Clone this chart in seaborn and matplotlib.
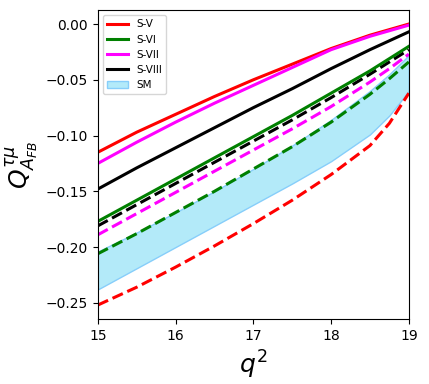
import numpy as np
import pandas as pd
import matplotlib
matplotlib.use("Agg")
import matplotlib.pyplot as plt
import seaborn as sns

# q^2 grid the values were read at
q2 = [15.0, 15.5, 16.0, 16.5, 17.0, 17.5, 18.0, 18.5, 18.75, 19.0]

# solid curves
s5_solid = [-0.115, -0.097, -0.081, -0.065, -0.050, -0.036, -0.022, -0.010, -0.005, 0.000]
s6_solid = [-0.177, -0.158, -0.139, -0.120, -0.101, -0.082, -0.062, -0.042, -0.031, -0.020]
s7_solid = [-0.125, -0.106, -0.088, -0.071, -0.055, -0.039, -0.023, -0.011, -0.006, -0.001]
s8_solid = [-0.148, -0.129, -0.111, -0.093, -0.075, -0.058, -0.040, -0.023, -0.015, -0.007]

# dashed curves
s5_dash = [-0.252, -0.236, -0.218, -0.199, -0.179, -0.158, -0.135, -0.109, -0.089, -0.062]
s6_dash = [-0.206, -0.188, -0.169, -0.150, -0.130, -0.110, -0.088, -0.063, -0.049, -0.034]
s7_dash = [-0.189, -0.170, -0.151, -0.132, -0.113, -0.094, -0.074, -0.052, -0.040, -0.027]
s8_dash = [-0.181, -0.162, -0.143, -0.124, -0.105, -0.086, -0.066, -0.045, -0.034, -0.023]

# SM band
sm_low = [-0.238, -0.219, -0.200, -0.181, -0.162, -0.143, -0.123, -0.099, -0.082, -0.060]
sm_high = [-0.204, -0.187, -0.169, -0.150, -0.130, -0.109, -0.086, -0.060, -0.045, -0.028]

labels = ["S-V", "S-VI", "S-VII", "S-VIII"]
colors = ["red", "green", "magenta", "black"]

fig = plt.figure(figsize=(4.29, 3.84), dpi=100)
ax = fig.add_axes([0.228, 0.169, 0.725, 0.805])

band = ax.fill_between(q2, sm_low, sm_high, facecolor="#b3eaf9",
                       edgecolor="#87cefa", linewidth=1, label="SM")

for ys, c in zip([s5_dash, s6_dash, s7_dash, s8_dash], colors):
    sns.lineplot(x=q2, y=ys, ax=ax, color=c, linestyle="--", linewidth=2.2)

handles = []
for ys, c, lab in zip([s5_solid, s6_solid, s7_solid, s8_solid], colors, labels):
    sns.lineplot(x=q2, y=ys, ax=ax, color=c, linewidth=2.2, label=lab)
    handles.append(ax.lines[-1])

ax.set_xlim(15, 19)
ax.set_xticks([15, 16, 17, 18, 19])
ax.set_xlabel(r"$q^2$", fontsize=18)
ax.set_ylabel(r"$Q^{\tau\mu}_{A_{FB}}$", fontsize=18)
ax.legend(handles=handles + [band], labels=labels + ["SM"], loc="upper left", fontsize=7.5)

fig.savefig("out.png", dpi=100)
